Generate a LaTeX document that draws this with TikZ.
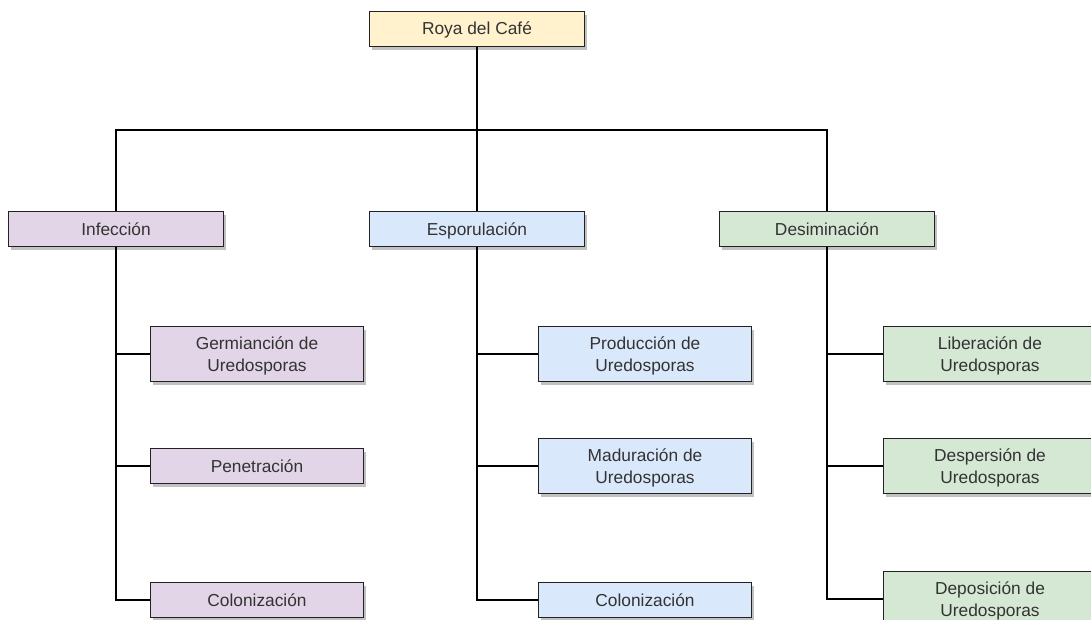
\documentclass[tikz,border=0pt]{standalone}
\usepackage{fontspec}
\setmainfont{Liberation Sans}
\usepackage{tikz}
\usetikzlibrary{calc,shadows}
\definecolor{rootfill}{HTML}{FFF2CC}
\definecolor{inffill}{HTML}{E1D5E7}
\definecolor{espfill}{HTML}{DAE8FC}
\definecolor{desfill}{HTML}{D5E8D4}
\definecolor{boxline}{HTML}{222222}
\definecolor{boxtext}{HTML}{333333}
\tikzset{
         box/.style=
          {
           draw=boxline,
           rectangle,
           font=\fontsize{13}{16.5}\selectfont,
           text=boxtext,
           align=center,
           inner sep=0pt,
           drop shadow={shadow xshift=2pt,shadow yshift=-2.5pt,opacity=.35,fill=black!70}
          },
         topbox/.style={box,minimum width=161pt,minimum height=26pt,text height=.95em,text depth=.05em},
         leafbox/.style={box,minimum width=160pt,minimum height=26pt,text height=.95em,text depth=.05em},
         tallbox/.style={box,minimum width=160pt,minimum height=41pt,text depth=-.1em},
         link/.style={draw=black,line width=.8pt}
        }

\begin{document}
\begin{tikzpicture}[x=.75pt,y=-.75pt]
\useasboundingbox(0,0)rectangle(1091,620);
\clip(0,0)rectangle(1091,620);
%root
\node[topbox,fill=rootfill](root)at(477,29){Roya del Café};
%branches
\node[topbox,fill=inffill](inf)at(116,229){Infección};
\node[topbox,fill=espfill](esp)at(477,229){Esporulación};
\node[topbox,fill=desfill](des)at(827,229){Desiminación};
%infection
\node[tallbox,fill=inffill](ger)at(257,354){Germianción de\\Uredosporas};
\node[leafbox,fill=inffill](pen)at(257,466){Penetración};
\node[leafbox,fill=inffill](coli)at(257,600){Colonización};
%sporulation
\node[tallbox,fill=espfill](pro)at(645,354){Producción de\\Uredosporas};
\node[tallbox,fill=espfill](mad)at(645,466){Maduración de\\Uredosporas};
\node[leafbox,fill=espfill](cole)at(645,600){Colonización};
%dissemination
\node[tallbox,fill=desfill](lib)at(990,354){Liberación de\\Uredosporas};
\node[tallbox,fill=desfill](dsp)at(990,466){Despersión de\\Uredosporas};
\node[tallbox,fill=desfill](dep)at(990,599){Deposición de\\Uredosporas};
%connectors
\coordinate(bus)at(477,130);
\draw[link](root.south)--(esp.north);
\draw[link](inf.north)|-(bus);
\draw[link](des.north)|-(bus);
\draw[link](inf.south)|-(coli.west);
\draw[link](inf.south|-ger.west)--(ger.west);
\draw[link](inf.south|-pen.west)--(pen.west);
\draw[link](esp.south)|-(cole.west);
\draw[link](esp.south|-pro.west)--(pro.west);
\draw[link](esp.south|-mad.west)--(mad.west);
\draw[link](des.south)|-(dep.west);
\draw[link](des.south|-lib.west)--(lib.west);
\draw[link](des.south|-dsp.west)--(dsp.west);
\end{tikzpicture}
\end{document}
